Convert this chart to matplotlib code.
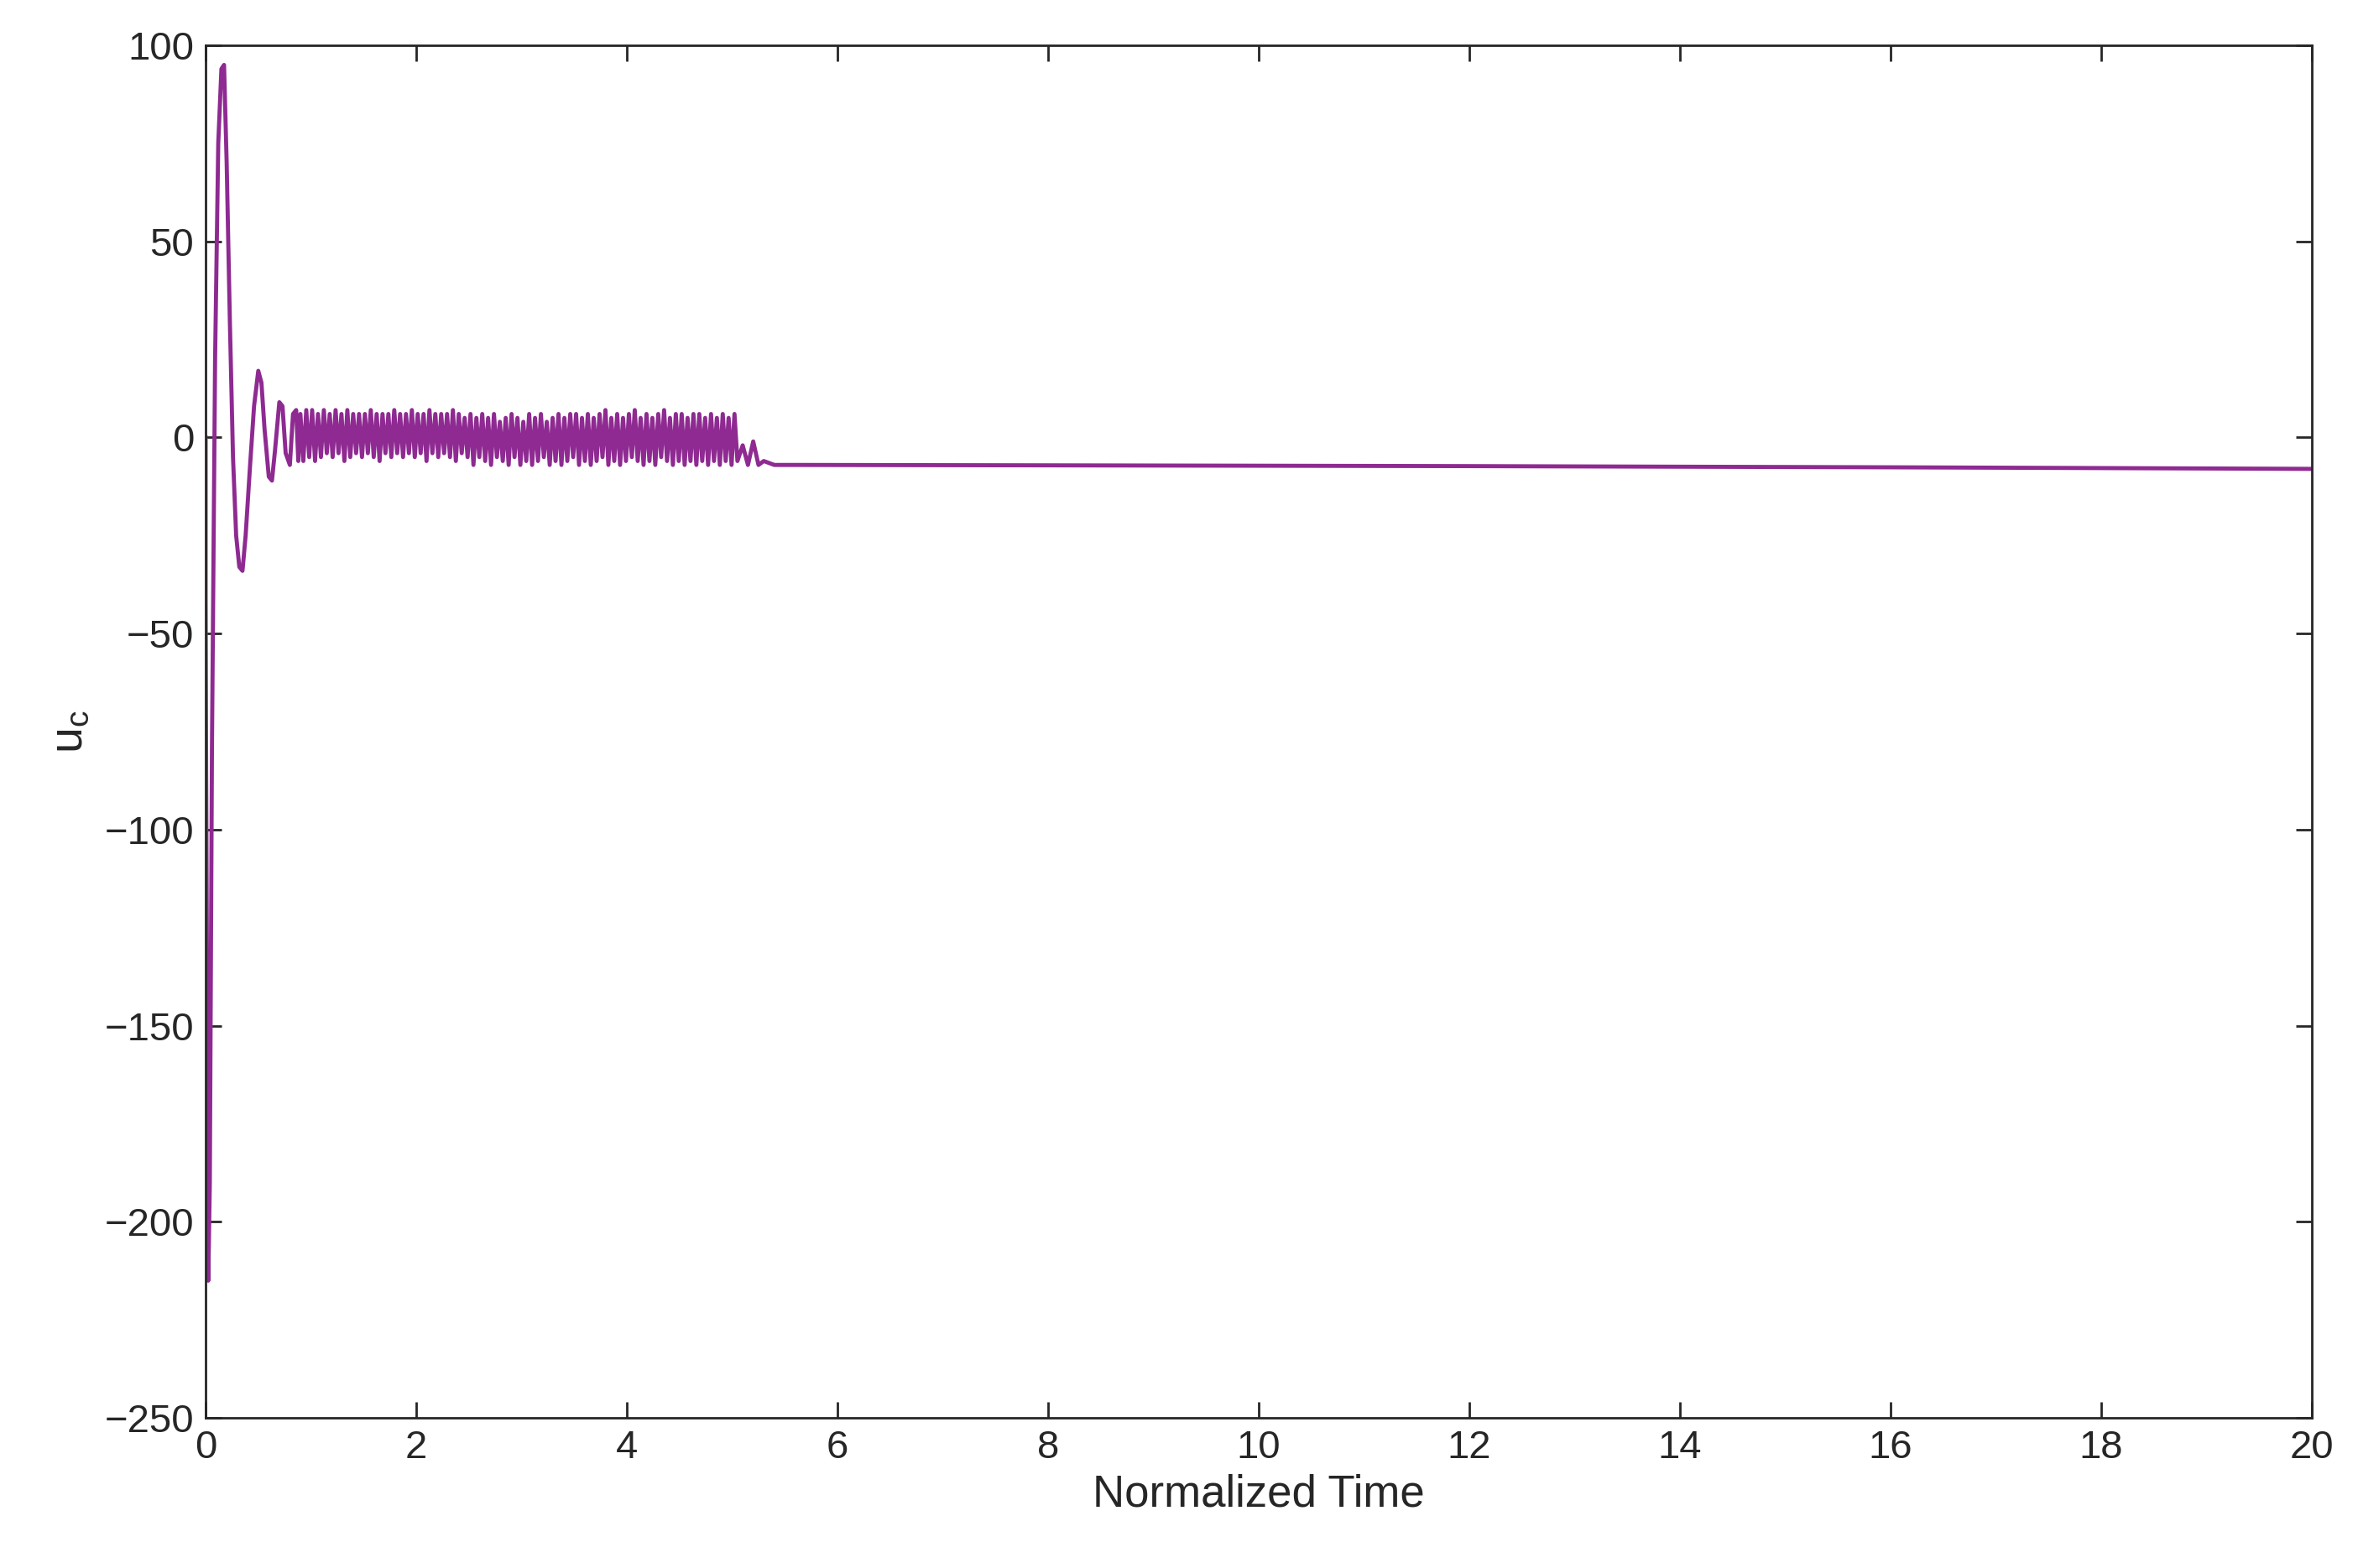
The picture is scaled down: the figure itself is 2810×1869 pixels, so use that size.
import numpy as np
import matplotlib.pyplot as plt

plt.rcParams['font.family'] = ['Liberation Sans', 'DejaVu Sans']

# --- transient part (time, value) ---
t_start = [0.0, 0.0, 0.005, 0.015, 0.025, 0.04, 0.06, 0.09, 0.12, 0.15, 0.175, 0.2, 0.23,
           0.26, 0.29, 0.32, 0.35, 0.38, 0.42, 0.46, 0.5, 0.53, 0.56, 0.6, 0.63, 0.66,
           0.7, 0.73, 0.76, 0.8, 0.83, 0.86, 0.88]
u_start = [0.0, -40, -85, -150, -215, -190, -80, 20, 75, 94, 95, 70, 30,
           -5, -25, -33, -34, -25, -8, 8, 17, 14, 2, -10, -11, -3,
           9, 8, -4, -7, 6, 7, -6]

# --- chattering part, read as alternating peaks ---
u_chatter = [6, -6, 7, -5, 7, -6, 6, -5, 7, -4, 6, -5, 7, -4, 6, -6, 7, -5, 6, -4,
             6, -5, 6, -4, 7, -5, 6, -6, 6, -4, 6, -5, 7, -4, 6, -5, 6, -4, 7, -5,
             6, -4, 6, -6, 7, -4, 6, -5, 6, -4, 6, -5, 7, -6, 6, -4, 5, -5, 6, -7,
             5, -5, 6, -6, 5, -7, 6, -5, 4, -6, 5, -7, 6, -5, 5, -7, 4, -6, 6, -7,
             5, -6, 6, -5, 4, -7, 5, -6, 6, -7, 5, -6, 6, -5, 6, -7, 5, -6, 6, -7,
             5, -6, 6, -5, 7, -7, 5, -6, 6, -7, 5, -6, 6, -5, 7, -6, 5, -7, 6, -6,
             5, -7, 6, -5, 7, -6, 5, -7, 6, -6, 6, -7, 5, -6, 6, -7, 6, -6, 5, -7,
             6, -6, 5, -7, 6, -6, 5, -7, 6, -6]
t_chatter = np.linspace(0.9, 5.05, len(u_chatter))

# --- settling and slow drift ---
t_end = [5.1, 5.15, 5.2, 5.25, 5.3, 5.4, 5.6, 8, 12, 16, 20]
u_end = [-2, -7, -1, -7, -6, -7, -7, -7.1, -7.3, -7.6, -8]

t = np.concatenate([t_start, t_chatter, t_end])
u = np.concatenate([u_start, u_chatter, u_end])

fig = plt.figure(figsize=(28.1, 18.69), dpi=100)
ax = fig.add_axes([0.0872, 0.0957, 0.8932, 0.8754])
ax.plot(t, u, color='#8E2A91', linewidth=3.5)
ax.set_xlim(0, 20)
ax.set_ylim(-250, 100)
ax.set_xticks(np.arange(0, 21, 2))
ax.set_yticks(np.arange(-250, 101, 50))
ax.tick_params(direction='in', length=14, width=2, labelsize=34, top=True, right=True,
               colors='#262626', pad=10)
for s in ax.spines.values():
    s.set_linewidth(2)
    s.set_color('#262626')
ax.set_xlabel('Normalized Time', fontsize=38, color='#262626', labelpad=6)
ax.set_ylabel('$\\mathregular{u_c}$', fontsize=40, color='#262626', labelpad=10)
fig.savefig('out.png', dpi=100)
